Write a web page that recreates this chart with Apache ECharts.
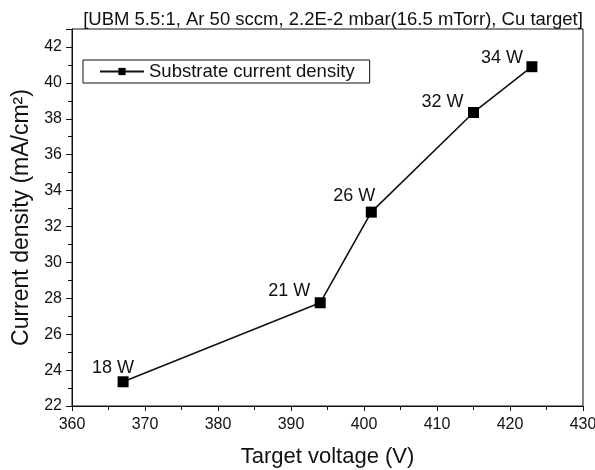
<!DOCTYPE html>
<html lang="en" style="height: 100%">
<head>
  <meta charset="utf-8">
</head>
<body style="height: 100%; margin: 0">
  <div id="container" style="width: 595px; height: 470px"></div>

  <script type="text/javascript" src="https://fastly.jsdelivr.net/npm/echarts@6/dist/echarts.min.js"></script>

  <script type="text/javascript">
    // data
    var voltage = [367, 394, 401, 415, 423];
    var currentDensity = [23.35, 27.75, 32.8, 38.35, 40.9];
    var power = ['18 W', '21 W', '26 W', '32 W', '34 W'];

    // label nudges (px) relative to 'top'
    var labelOffsets = [[-10, 4], [-31, 6], [-17, 1], [-31, 7], [-30, 9]];

    var dom = document.getElementById('container');
    var myChart = echarts.init(dom, null, { renderer: 'canvas' });
    var font = 'Liberation Sans, Arial, sans-serif';

    var points = voltage.map(function (v, i) {
      return {
        value: [v, currentDensity[i]],
        label: { formatter: power[i], offset: labelOffsets[i] }
      };
    });

    var option = {
      animation: false,
      backgroundColor: '#fff',
      textStyle: { fontFamily: font, color: '#111' },
      title: {
        text: '[UBM 5.5:1, Ar 50 sccm, 2.2E-2 mbar(16.5 mTorr), Cu target]',
        left: 328, textAlign: 'center',
        top: 5,
        textStyle: { fontSize: 18.5, fontWeight: 'normal', color: '#111', fontFamily: font }
      },
      legend: {
        left: 83, top: 60,
        padding: [2, 15, 2, 16],
        borderColor: '#111', borderWidth: 1,
        itemWidth: 44, itemHeight: 9, itemGap: 4,
        textStyle: { fontSize: 18.5, color: '#111', fontFamily: font },
        data: ['Substrate current density']
      },
      grid: {
        left: 72, right: 12, top: 29, bottom: 64,
        outerBoundsMode: 'none',
        show: true, borderColor: '#111', borderWidth: 1
      },
      xAxis: {
        type: 'value',
        min: 360, max: 430, interval: 10,
        name: 'Target voltage (V)',
        nameLocation: 'middle', nameGap: 40,
        nameTextStyle: { fontSize: 22, color: '#111' },
        axisLine: { lineStyle: { color: '#111' } },
        axisTick: { length: 5, lineStyle: { color: '#111' } },
        minorTick: { show: true, splitNumber: 2, length: 4, lineStyle: { color: '#111' } },
        axisLabel: { fontSize: 16, color: '#111', margin: 11 },
        splitLine: { show: false }
      },
      yAxis: {
        type: 'value',
        min: 22, max: 43, interval: 2,
        name: 'Current density (mA/cm²)',
        nameLocation: 'middle', nameGap: 37,
        nameTextStyle: { fontSize: 23, color: '#111' },
        axisLine: { show: true, lineStyle: { color: '#111' } },
        axisTick: { show: true, length: 6, lineStyle: { color: '#111' } },
        minorTick: { show: true, splitNumber: 2, length: 4, lineStyle: { color: '#111' } },
        axisLabel: { fontSize: 16, color: '#111', margin: 10, showMaxLabel: false },
        splitLine: { show: false }
      },
      series: [{
        name: 'Substrate current density',
        type: 'line',
        data: points,
        symbol: 'rect',
        symbolSize: 11,
        itemStyle: { color: '#000' },
        lineStyle: { color: '#111', width: 1.6 },
        label: {
          show: true, position: 'top', distance: 3,
          fontSize: 18, color: '#111', fontFamily: font
        }
      }]
    };

    myChart.setOption(option);
    window.addEventListener('resize', myChart.resize);
  </script>
</body>
</html>
